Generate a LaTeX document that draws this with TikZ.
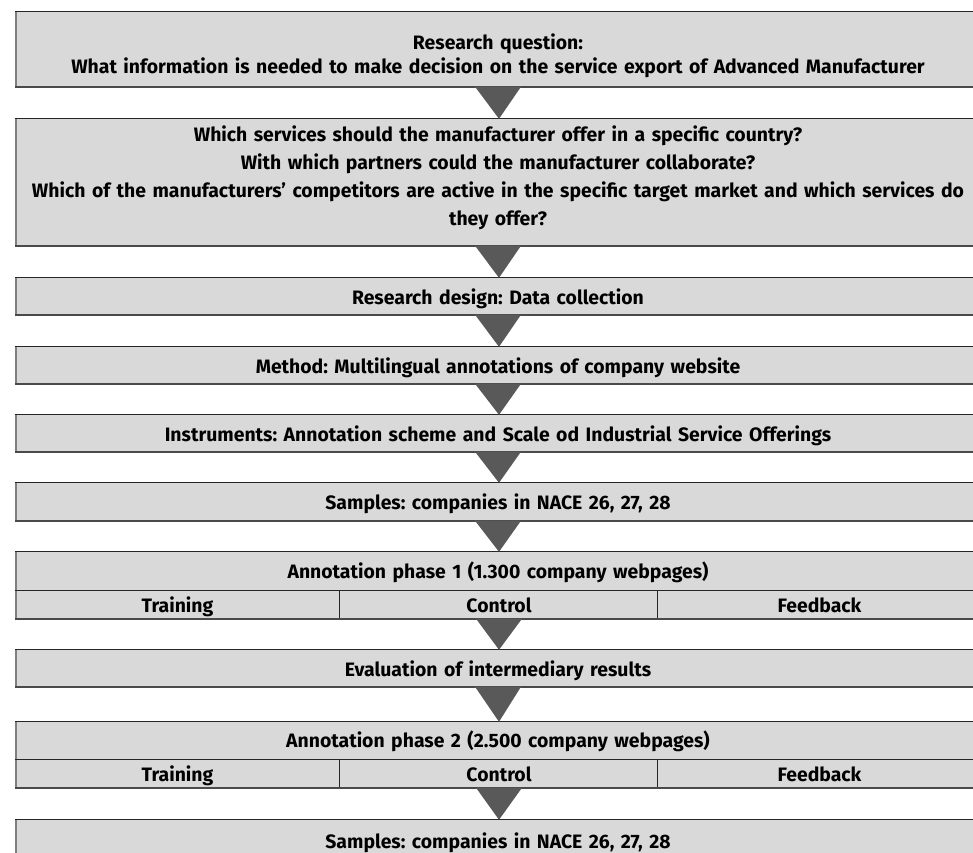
\documentclass[tikz,border=0pt]{standalone}
\usepackage{fontspec}
\setmainfont{Fira Sans}
\usetikzlibrary{calc}
\definecolor{boxfill}{HTML}{D9D9D9}
\definecolor{arrowfill}{HTML}{595959}
\definecolor{leftedge}{HTML}{7F7F7F}
\definecolor{bottomedge}{HTML}{4A4A4A}
\definecolor{topedge}{HTML}{262626}
\frenchspacing
\tikzset{
  flowbox/.style={rectangle, fill=boxfill, inner sep=0pt, minimum width=966pt, text width=955pt, align=center, font=\bfseries\fontsize{19.4}{28}\selectfont},
  oneline/.style={text height=19pt, text depth=5pt},
  cellbox/.style={rectangle, fill=boxfill, inner sep=0pt, minimum height=30pt, text width=300pt, align=center, text height=19pt, text depth=5pt, font=\bfseries\fontsize{19.4}{22}\selectfont},
  tri/.style={fill=arrowfill},
  topline/.style={draw=topedge, line width=1.2pt},
  leftline/.style={draw=leftedge, line width=2pt},
  botline/.style={draw=bottomedge, line width=2pt},
  divline/.style={draw=topedge, line width=1pt},
}
\begin{document}
\begin{tikzpicture}[x=1pt,y=-1pt]
\useasboundingbox (0,0) rectangle (973,852);
\clip (0,0) rectangle (973,852);
% boxes
\node[flowbox, minimum height=76pt, font=\bfseries\fontsize{19.4}{24}\selectfont] (b1) at (498,50) {\rule{0pt}{27pt}Research question:\\What information is needed to make decision on the service export of Advanced Manufacturer};
\node[flowbox, minimum height=128pt] (b2) at (498,183) {Which services should the manufacturer offer in a specific country?\\With which partners could the manufacturer collaborate?\\Which of the manufacturers’ competitors are active in the specific target market and which services do\\they offer?\rule[-14pt]{0pt}{1pt}};
\node[flowbox, oneline, minimum height=38pt] (b3) at (498,297) {Research design: Data collection};
\node[flowbox, oneline, minimum height=38pt] (b4) at (498,366) {Method: Multilingual annotations of company website};
\node[flowbox, oneline, minimum height=38pt] (b5) at (498,434) {Instruments: Annotation scheme and Scale od Industrial Service Offerings};
\node[flowbox, oneline, minimum height=39pt] (b6) at (498,502.5) {Samples: companies in NACE 26, 27, 28};
\node[flowbox, oneline, minimum height=38pt] (b7) at (498,571) {Annotation phase 1 (1.300 company webpages)};
\node[cellbox, minimum width=325pt] (b7a) at (177.5,605) {Training};
\node[cellbox, minimum width=318pt] (b7b) at (499,605) {Control};
\node[cellbox, minimum width=323pt] (b7c) at (819.5,605) {Feedback};
\node[flowbox, oneline, minimum height=38pt] (b8) at (498,669) {Evaluation of intermediary results};
\node[flowbox, oneline, minimum height=37pt] (b9) at (498,740.5) {Annotation phase 2 (2.500 company webpages)};
\node[cellbox, minimum width=325pt] (b9a) at (177.5,774) {Training};
\node[cellbox, minimum width=318pt] (b9b) at (499,774) {Control};
\node[cellbox, minimum width=323pt] (b9c) at (819.5,774) {Feedback};
\node[flowbox, text height=19pt, text depth=7pt, minimum height=44pt] (b10) at (498,842) {Samples: companies in NACE 26, 27, 28};
% edges of single boxes
\foreach \n in {b1,b2,b3,b4,b5,b6,b8,b10}{
  \draw[topline] (\n.north west) -- (\n.north east);
  \draw[leftline] ([xshift=1pt]\n.north west) -- ([xshift=1pt]\n.south west);
  \draw[botline] ([yshift=1pt]\n.south west) -- ([yshift=1pt]\n.south east);
}
% two-row boxes
\foreach \h/\a/\b/\c in {b7/b7a/b7b/b7c, b9/b9a/b9b/b9c}{
  \draw[topline] (\h.north west) -- (\h.north east);
  \draw[leftline] ([xshift=1pt]\h.north west) -- ([xshift=1pt]\a.south west);
  \draw[divline] (\h.south west) -- (\h.south east);
  \draw[divline] (\b.north west) -- (\b.south west);
  \draw[divline] (\c.north west) -- (\c.south west);
  \draw[botline] ([yshift=1pt]\a.south west) -- ([yshift=1pt]\c.south east);
}
% arrows
\foreach \u/\v in {b1/b2,b2/b3,b3/b4,b4/b5,b5/b6,b6/b7,b7b/b8,b8/b9,b9b/b10}{
  \fill[tri] ([xshift=-23pt,yshift=1.5pt]\u.south) -- ([xshift=23pt,yshift=1.5pt]\u.south) -- ([xshift=1pt]\v.north) -- cycle;
}
\end{tikzpicture}
\end{document}
